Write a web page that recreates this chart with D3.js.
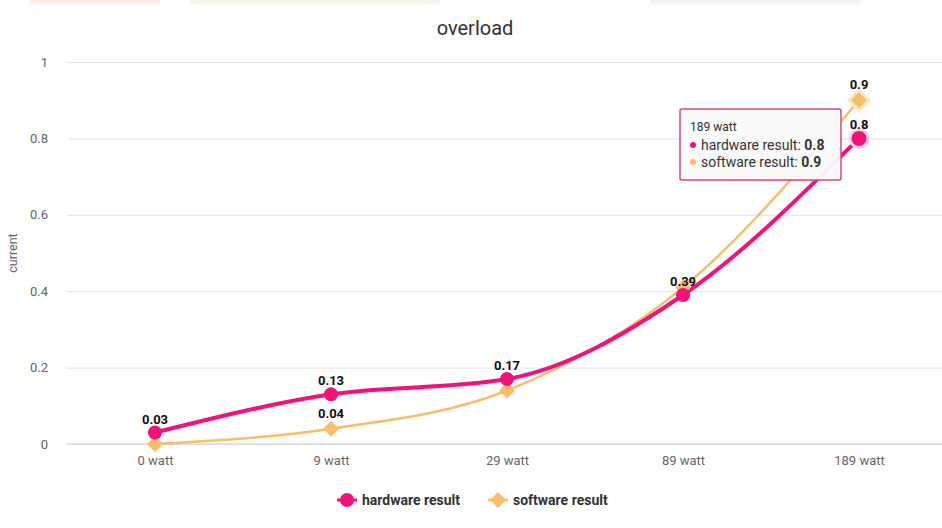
<!DOCTYPE html>
<html>
<head>
<meta charset="utf-8">
<script src="https://cdn.jsdelivr.net/npm/d3@7"></script>
<style>
  body { margin: 0; background: #fff; }
  svg { font-family: Roboto, "Noto Sans", sans-serif; display: block; }
</style>
</head>
<body>
<svg id="chart" width="942" height="528"></svg>
<script>
let categories = ["0 watt", "9 watt", "29 watt", "89 watt", "189 watt"],
    hardware = [0.03, 0.13, 0.17, 0.39, 0.8],
    software = [0, 0.04, 0.14, 0.41, 0.9],
    y_ticks = [0, 0.2, 0.4, 0.6, 0.8, 1],
    series_names = ["hardware result", "software result"],
    colors = ["#f2127a", "#f8be6a"],
    hovered = 4;

let width = 942,
    height = 528,
    margins = {top: 62, bottom: 84, left: 67, right: -5};

let svg = d3.select("#chart");

let x = d3.scalePoint()
  .domain(categories)
  .range([margins.left, width - margins.right])
  .padding(0.5);

let y = d3.scaleLinear()
  .domain([0, 1])
  .range([height - margins.bottom, margins.top]);

// faint blurred strip at the very top of the screenshot
let grad = svg.append("defs").append("linearGradient")
  .attr("id", "fade").attr("x1", 0).attr("x2", 0).attr("y1", 0).attr("y2", 1);
grad.append("stop").attr("offset", 0).attr("stop-color", "#fff").attr("stop-opacity", 0);
grad.append("stop").attr("offset", 1).attr("stop-color", "#fff").attr("stop-opacity", 1);

let strip = [[30, 160, "#fbe4e4"], [190, 440, "#ebf5e4"], [650, 860, "#f0f0f0"]];
let top_g = svg.append("g");
top_g.selectAll("rect")
  .data(strip).enter()
  .append("rect")
  .attr("x", d => d[0]).attr("y", 0)
  .attr("width", d => d[1] - d[0]).attr("height", 6)
  .attr("fill", d => d[2]);
top_g.append("rect")
  .attr("width", width).attr("height", 7)
  .attr("fill", "url(#fade)");

// title
svg.append("text")
  .attr("x", 475).attr("y", 35)
  .attr("text-anchor", "middle")
  .attr("font-size", 20)
  .attr("fill", "#333")
  .text("overload");

// grid + y axis
let y_axis = d3.axisLeft(y)
  .tickValues(y_ticks)
  .tickSize(-(width - margins.left))
  .tickPadding(19)
  .tickFormat(d3.format("~g"));

svg.append("g")
  .attr("transform", `translate(${margins.left},0)`)
  .call(y_axis)
  .call(g => g.select(".domain").remove())
  .call(g => g.selectAll(".tick line").attr("stroke", "#e3e3e8"))
  .call(g => g.selectAll(".tick text").attr("fill", "#666").attr("font-size", 13).attr("font-family", "Roboto"));

svg.append("line")
  .attr("x1", margins.left).attr("x2", width)
  .attr("y1", y(0)).attr("y2", y(0))
  .attr("stroke", "#cfd0dc");

// x axis
let x_axis = d3.axisBottom(x).tickSize(0).tickPadding(12);
svg.append("g")
  .attr("transform", `translate(0,${y(0)})`)
  .call(x_axis)
  .call(g => g.select(".domain").remove())
  .call(g => g.selectAll(".tick text").attr("fill", "#666").attr("font-size", 13).attr("font-family", "Roboto"));

// y axis title
svg.append("text")
  .attr("transform", `translate(17,${(y(0) + y(1)) / 2}) rotate(-90)`)
  .attr("text-anchor", "middle")
  .attr("font-size", 12.5)
  .attr("fill", "#666")
  .text("current");

// lines
let line = d3.line()
  .x((d, i) => x(categories[i]))
  .y(d => y(d))
  .curve(d3.curveMonotoneX);

svg.append("path")
  .attr("d", line(software))
  .attr("fill", "none")
  .attr("stroke", colors[1])
  .attr("stroke-width", 2.5);

svg.append("path")
  .attr("d", line(hardware))
  .attr("fill", "none")
  .attr("stroke", colors[0])
  .attr("stroke-width", 4);

let diamond = (cx, cy, r) => `M${cx},${cy - r}L${cx + r},${cy}L${cx},${cy + r}L${cx - r},${cy}Z`;

// software markers
svg.append("g").selectAll("path")
  .data(software).enter()
  .append("path")
  .attr("d", (d, i) => diamond(x(categories[i]), y(d), i == hovered ? 10 : 8))
  .attr("fill", colors[1])
  .attr("stroke", (d, i) => i == hovered ? "#fbe6c4" : "none")
  .attr("stroke-width", 3);

// hardware markers
svg.append("g").selectAll("circle")
  .data(hardware).enter()
  .append("circle")
  .attr("cx", (d, i) => x(categories[i]))
  .attr("cy", d => y(d))
  .attr("r", (d, i) => i == hovered ? 9 : 7)
  .attr("fill", colors[0])
  .attr("stroke", (d, i) => i == hovered ? "#fbd0e4" : "none")
  .attr("stroke-width", 3);

// data labels, software labels skipped when they collide with hardware
let labels = svg.append("g")
  .attr("font-size", 13)
  .attr("font-weight", "bold")
  .attr("fill", "#111")
  .attr("text-anchor", "middle");

hardware.forEach((d, i) => {
  labels.append("text")
    .attr("x", x(categories[i]))
    .attr("y", y(d) - 9)
    .text(d);
});

software.forEach((d, i) => {
  let ly = y(d) - 11;
  if (Math.abs(ly - y(hardware[i])) < 20 || Math.abs(ly - (y(hardware[i]) - 13)) < 14) return;
  labels.append("text")
    .attr("x", x(categories[i]))
    .attr("y", ly)
    .text(d);
});

// tooltip
let tip = svg.append("g").attr("transform", "translate(680,109)");
tip.append("rect")
  .attr("width", 161).attr("height", 71)
  .attr("rx", 2)
  .attr("fill", "rgba(250,250,250,0.95)")
  .attr("stroke", "#d8457f")
  .attr("stroke-width", 1.5);
tip.append("text")
  .attr("x", 10).attr("y", 22)
  .attr("font-size", 12).attr("fill", "#333")
  .text(categories[hovered]);
[hardware, software].forEach((s, k) => {
  let ty = 41 + k * 17;
  tip.append("circle")
    .attr("cx", 13).attr("cy", ty - 5).attr("r", 3)
    .attr("fill", colors[k]);
  let t = tip.append("text")
    .attr("x", 21).attr("y", ty)
    .attr("font-size", 14).attr("fill", "#333");
  t.append("tspan").text(series_names[k] + ": ");
  t.append("tspan").attr("font-weight", "bold").text(s[hovered]);
});

// legend
let legend = svg.append("g").attr("transform", "translate(0,500)");
let lx = [347, 498];
series_names.forEach((name, k) => {
  let g = legend.append("g").attr("transform", `translate(${lx[k]},0)`);
  g.append("line")
    .attr("x1", -10).attr("x2", 10)
    .attr("stroke", colors[k]).attr("stroke-width", 3);
  if (k == 0) {
    g.append("circle").attr("r", 7).attr("fill", colors[k]);
  } else {
    g.append("path").attr("d", diamond(0, 0, 8)).attr("fill", colors[k]);
  }
  g.append("text")
    .attr("x", 15).attr("y", 5)
    .attr("font-size", 14).attr("font-weight", "bold").attr("fill", "#333")
    .text(name);
});
</script>
</body>
</html>
